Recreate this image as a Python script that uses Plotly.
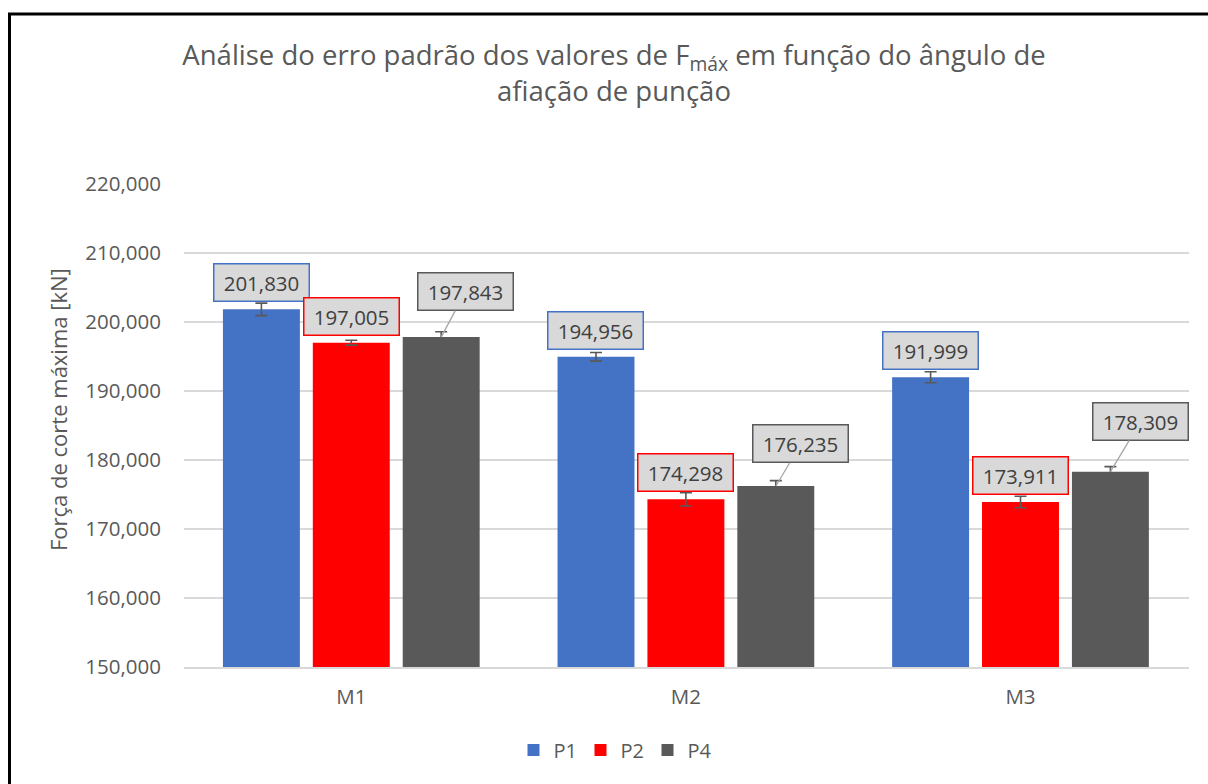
import plotly.graph_objects as go

# Maximum cutting force per material and punch (kN) with standard error
categories = ["M1", "M2", "M3"]
series_names = ["P1", "P2", "P4"]
p1_values = [201.830, 194.956, 191.999]
p2_values = [197.005, 174.298, 173.911]
p4_values = [197.843, 176.235, 178.309]
p1_errors = [0.90, 0.63, 0.80]
p2_errors = [0.36, 0.97, 0.84]
p4_errors = [0.75, 0.77, 0.73]
y_ticks = [150, 160, 170, 180, 190, 200, 210, 220]

colors = ["#4472c4", "#ff0000", "#595959"]
text_color = "#595959"
font_family = "Open Sans"

W, H = 1208, 784
ML, MR, MT, MB = 184, 19, 184, 117
plot_w = W - ML - MR
plot_h = H - MT - MB

values = [p1_values, p2_values, p4_values]
errors = [p1_errors, p2_errors, p4_errors]

fig = go.Figure()
for name, vals, errs, col in zip(series_names, values, errors, colors):
    fig.add_trace(go.Bar(
        name=name, x=categories, y=vals, marker_color=col,
        marker_line_width=0,
        error_y=dict(type="data", array=errs, visible=True,
                     color="#595959", thickness=1.6, width=6),
    ))


def fmt(v):
    return f"{v:,.3f}".replace(",", "X").replace(".", ",").replace("X", ".")


slot = plot_w / len(categories) * (1 - 0.194) / 3
slot_shift = [-slot, 0, slot]

# callouts for P4 carry leader lines (pixel offset of the box from the bar top)
p4_offsets = [(24, -45), (25, -42), (30, -50)]

annotations = []
for s, (vals, col) in enumerate(zip(values, colors)):
    for i, (cat, v) in enumerate(zip(categories, vals)):
        base = dict(
            x=cat, y=v, xref="x", yref="y", text=fmt(v),
            font=dict(family=font_family, size=20.5, color="#404040"),
            bgcolor="#d9d9d9", bordercolor=col, borderwidth=1.5,
            borderpad=2, width=90, height=32, xshift=slot_shift[s],
        )
        if s < 2:
            base.update(showarrow=False, yanchor="bottom", yshift=7)
        else:
            ax, ay = p4_offsets[i]
            base.update(showarrow=True, arrowhead=0, arrowwidth=1.3,
                        arrowcolor="#a6a6a6", ax=ax, ay=ay, standoff=0)
        annotations.append(base)

# rotated y-axis title
annotations.append(dict(
    text="Força de corte máxima [kN]", xref="paper", yref="paper",
    x=(58 - ML) / plot_w, y=(H - MB - 410) / plot_h, textangle=-90,
    showarrow=False, xanchor="center", yanchor="middle",
    font=dict(family=font_family, size=22, color=text_color),
))

shapes = [dict(
    type="rect", xref="paper", yref="paper",
    x0=(9.5 - ML) / plot_w, x1=(W + 20 - ML) / plot_w,
    y0=(H - MB - (H + 20)) / plot_h, y1=(H - MB - 14) / plot_h,
    line=dict(color="#000000", width=3), fillcolor="rgba(0,0,0,0)",
    layer="below",
)]

fig.update_layout(
    width=W, height=H,
    margin=dict(l=ML, r=MR, t=MT, b=MB),
    paper_bgcolor="white", plot_bgcolor="white",
    separators=",.",
    barmode="group", bargap=0.194, bargroupgap=0.144,
    title=dict(
        text="Análise do erro padrão dos valores de F<sub>máx</sub> em função do ângulo de<br>afiação de punção",
        x=614 / W, xref="container", xanchor="center",
        y=1 - 65 / H, yref="container", yanchor="top",
        font=dict(family=font_family, size=27.5, color=text_color),
    ),
    font=dict(family=font_family, size=20, color=text_color),
    xaxis=dict(showgrid=False, showline=True, linecolor="#d9d9d9",
               linewidth=1.5, ticks="", ticklabelstandoff=11,
               tickfont=dict(size=20.5, color=text_color)),
    yaxis=dict(range=[150, 220], tickvals=y_ticks, tickformat=".3f",
               showgrid=True, gridcolor="#d9d9d9", gridwidth=1.5,
               zeroline=False, showline=False, ticks="",
               ticklabelstandoff=22,
               tickfont=dict(size=20.5, color=text_color)),
    legend=dict(orientation="h", xref="container", x=614 / W, xanchor="center",
                yref="container", y=1 - 750 / H, yanchor="middle",
                font=dict(size=20, color=text_color), traceorder="normal",
                itemwidth=30, entrywidth=22, entrywidthmode="pixels"),
    annotations=annotations,
    shapes=shapes,
    showlegend=True,
)

fig.write_html("out.html")
